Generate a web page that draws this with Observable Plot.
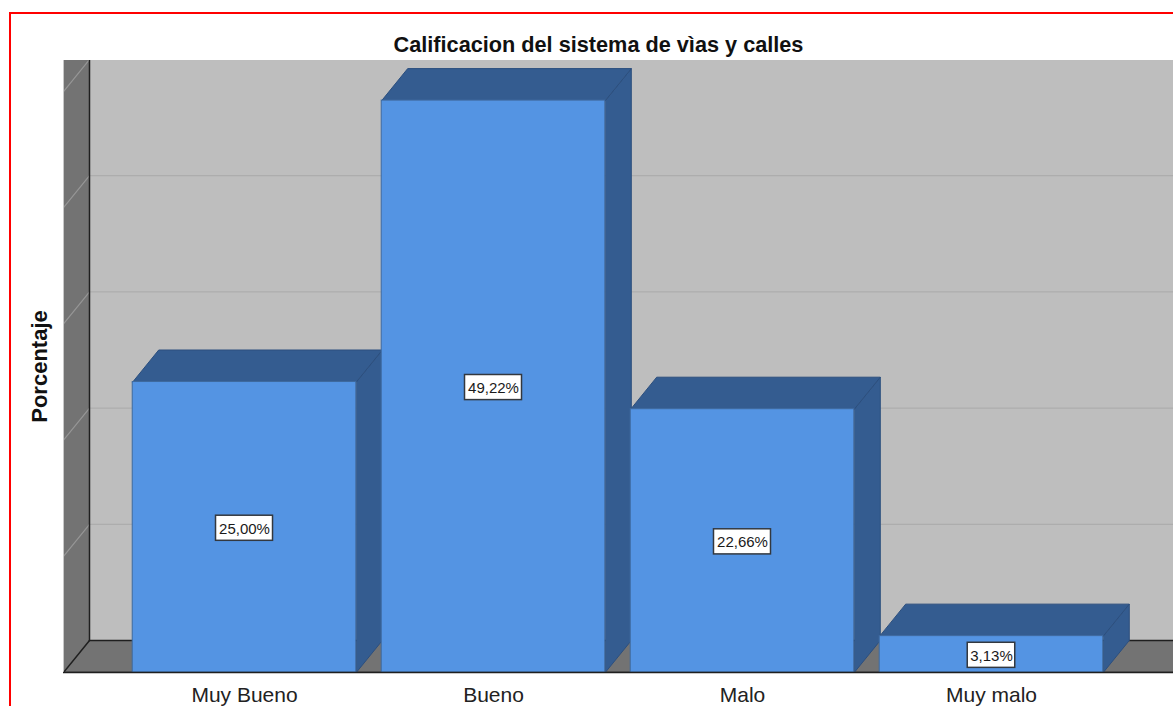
<!DOCTYPE html>
<html>
<head>
<meta charset="utf-8">
<script src="https://cdn.jsdelivr.net/npm/d3@7"></script>
<script src="https://cdn.jsdelivr.net/npm/@observablehq/plot@0.6"></script>
<style>
html,body{margin:0;padding:0;background:#fff;overflow:hidden}
#wrap{position:relative;width:1173px;height:706px;overflow:hidden}
#border{position:absolute;left:9px;top:12px;width:1400px;height:900px;border:2px solid #f00;box-sizing:border-box;pointer-events:none;z-index:2}
#title{position:absolute;left:0;top:31px;width:1197px;text-align:center;font:bold 21.7px "Liberation Sans",Arial,sans-serif;color:#111;line-height:28px;white-space:nowrap}
#chart{position:absolute;left:0;top:60px}
svg{display:block;overflow:hidden}
</style>
</head>
<body>
<div id="wrap">
  <div id="border"></div>
  <div id="title">Calificacion del sistema de vìas y calles</div>
  <div id="chart"></div>
</div>
<script>
const categories = ["Muy Bueno", "Bueno", "Malo", "Muy malo"];
const percentages = [25.00, 49.22, 22.66, 3.13];
const gridValues = [10, 20, 30, 40, 50];
const yLabel = "Porcentaje";

// 3-D projection and layout of the chart, in scale units
const depthX = 0.1044, depthY = 2.754;
const barHalf = 0.449;
const xMin = -0.727, xMax = 3.731, yMax = 52.67;
const boxHalfH = 1.08, boxCharW = 4.75 / 249;

const fmt = v => v.toFixed(2).replace(".", ",") + "%";
const bars = categories.map((c, i) => ({i, c, v: percentages[i], label: fmt(percentages[i])}));

const poly = (id, pts) => pts.map(([x, y]) => ({id, x, y}));
const walls = [
  ...poly("left", [[xMin,0],[xMin+depthX,depthY],[xMin+depthX,yMax+depthY],[xMin,yMax+depthY]]),
  ...poly("floor", [[xMin,0],[xMin+depthX,depthY],[xMax+1,depthY],[xMax+1,0]])
];
const faces = bars.flatMap(b => {
  const l = b.i - barHalf, r = b.i + barHalf;
  return [
    ...poly("side"+b.i, [[r,0],[r+depthX,depthY],[r+depthX,b.v+depthY],[r,b.v]]),
    ...poly("top"+b.i, [[l,b.v],[l+depthX,b.v+depthY],[r+depthX,b.v+depthY],[r,b.v]])
  ];
});
const wallGrid = gridValues.flatMap(v => poly("g"+v, [[xMin,v],[xMin+depthX,v+depthY]]));
const edges = [
  ...poly("diag", [[xMin,0],[xMin+depthX,depthY]]),
  ...poly("corner", [[xMin+depthX,depthY],[xMin+depthX,yMax+1]]),
  ...poly("back", [[xMin+depthX,depthY],[xMax,depthY]]),
  ...poly("base", [[xMin,0],[xMax,0]])
];

const plot = Plot.plot({
  width: 1173, height: 646,
  marginTop: 0, marginBottom: 34, marginLeft: 63, marginRight: 0,
  x: {domain: [xMin, xMax], label: null},
  y: {domain: [0, yMax], label: null, axis: null},
  style: {background: "transparent", fontFamily: '"Liberation Sans",Arial,sans-serif'},
  marks: [
    Plot.rect([0], {x1: xMin + depthX, x2: xMax, y1: depthY, y2: yMax, fill: "#bebebe"}),
    Plot.line(walls, {x: "x", y: "y", z: "id", fill: "#737373", stroke: "none", curve: "linear-closed", clip: true}),
    Plot.ruleY(gridValues.slice(0, 4), {
      y: d => d + depthY, x1: xMin + depthX, x2: xMax, stroke: "#adadad", strokeWidth: 1.2
    }),
    Plot.line(wallGrid, {x: "x", y: "y", z: "id", stroke: "#969696", strokeWidth: 1.2, clip: true}),
    Plot.line(edges, {x: "x", y: "y", z: "id", stroke: "#1f1f1f", strokeWidth: 1.5, clip: true}),
    Plot.ruleX([xMin], {stroke: "#c8c8c8", strokeWidth: 1}),
    ...bars.flatMap(b => [
      Plot.line(faces.filter(d => d.id === "side"+b.i || d.id === "top"+b.i), {
        x: "x", y: "y", z: "id", fill: "#345c90", stroke: "#2c4f7e", strokeWidth: 1, curve: "linear-closed", clip: true
      }),
      Plot.rect([b], {x1: d => d.i - barHalf, x2: d => d.i + barHalf, y1: 0, y2: d => d.v,
        fill: "#5494e3", stroke: "#3f6a9f", strokeWidth: 1})
    ]),
    Plot.ruleY([0], {x1: xMin, x2: xMax, stroke: "#1f1f1f", strokeWidth: 1.5}),
    Plot.rect(bars, {
      x1: d => d.i - d.label.length * boxCharW, x2: d => d.i + d.label.length * boxCharW,
      y1: d => d.v / 2 - boxHalfH, y2: d => d.v / 2 + boxHalfH,
      fill: "#fff", stroke: "#33383f", strokeWidth: 1.5, dy: 1
    }),
    Plot.text(bars, {x: "i", y: d => d.v / 2, text: "label", fontSize: 15, fill: "#1a1a1a", dy: 1.5}),
    Plot.axisX({ticks: [0, 1, 2, 3], tickFormat: i => categories[i], tickSize: 0, tickPadding: 15,
      fontSize: 21, fill: "#222", label: null}),
    Plot.text([yLabel], {frameAnchor: "left", dx: -24, rotate: -90, text: d => d, textAnchor: "middle",
      fontSize: 22, fontWeight: "bold", fill: "#111"})
  ]
});
document.getElementById("chart").appendChild(plot);
</script>
</body>
</html>
